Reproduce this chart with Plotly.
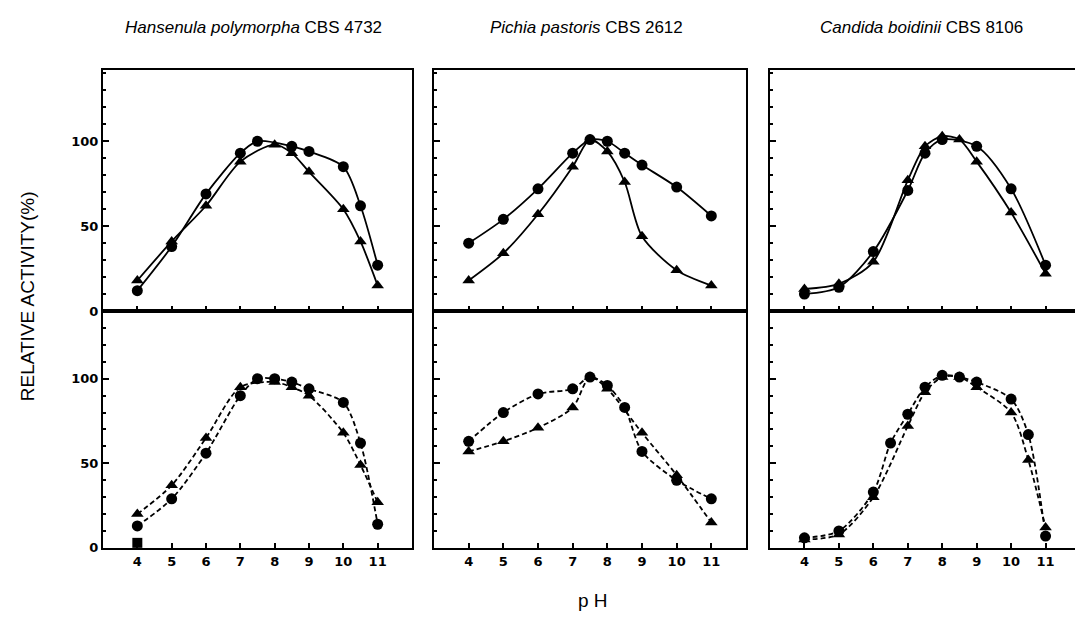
import plotly.graph_objects as go

# ---------------- data ----------------
titles = ["<i>Hansenula polymorpha</i> CBS 4732",
          "<i>Pichia pastoris</i> CBS 2612",
          "<i>Candida boidinii</i> CBS 8106"]
x_ticks = [4, 5, 6, 7, 8, 9, 10, 11]
y_ticks = [0, 50, 100]

# Hansenula polymorpha, top row (solid)
hp_top_circ_ph = [4, 5, 6, 7, 7.5, 8.5, 9, 10, 10.5, 11]
hp_top_circ = [12, 38, 69, 93, 100, 97, 94, 85, 62, 27]
hp_top_tri_ph = [4, 5, 6, 7, 8, 8.5, 9, 10, 10.5, 11]
hp_top_tri = [18, 41, 62, 88, 98, 93, 82, 60, 41, 15]
# Hansenula polymorpha, bottom row (dashed)
hp_bot_circ_ph = [4, 5, 6, 7, 7.5, 8, 8.5, 9, 10, 10.5, 11]
hp_bot_circ = [13, 29, 56, 90, 100, 100, 98, 94, 86, 62, 14]
hp_bot_tri_ph = [4, 5, 6, 7, 8, 8.5, 9, 10, 10.5, 11]
hp_bot_tri = [20, 37, 65, 95, 98, 95, 90, 68, 49, 27]
hp_bot_sq_ph = [4]
hp_bot_sq = [3]

# Pichia pastoris
pp_top_circ_ph = [4, 5, 6, 7, 7.5, 8, 8.5, 9, 10, 11]
pp_top_circ = [40, 54, 72, 93, 101, 100, 93, 86, 73, 56]
pp_top_tri_ph = [4, 5, 6, 7, 7.5, 8, 8.5, 9, 10, 11]
pp_top_tri = [18, 34, 57, 85, 101, 94, 76, 44, 24, 15]
pp_bot_circ_ph = [4, 5, 6, 7, 7.5, 8, 8.5, 9, 10, 11]
pp_bot_circ = [63, 80, 91, 94, 101, 96, 83, 57, 40, 29]
pp_bot_tri_ph = [4, 5, 6, 7, 7.5, 8, 9, 10, 11]
pp_bot_tri = [57, 63, 71, 83, 101, 94, 68, 43, 15]

# Candida boidinii
cb_top_circ_ph = [4, 5, 6, 7, 7.5, 8, 9, 10, 11]
cb_top_circ = [10, 14, 35, 71, 93, 101, 97, 72, 27]
cb_top_tri_ph = [4, 5, 6, 7, 7.5, 8, 8.5, 9, 10, 11]
cb_top_tri = [13, 16, 29, 77, 97, 103, 101, 88, 58, 22]
cb_bot_circ_ph = [4, 5, 6, 6.5, 7, 7.5, 8, 8.5, 9, 10, 10.5, 11]
cb_bot_circ = [6, 10, 33, 62, 79, 95, 102, 101, 98, 88, 67, 7]
cb_bot_tri_ph = [4, 5, 6, 7, 7.5, 8, 8.5, 9, 10, 10.5, 11]
cb_bot_tri = [5, 8, 30, 72, 92, 101, 101, 95, 80, 52, 12]

# ---------------- layout geometry ----------------
W, H = 1083, 619
col_px = [(95, 404), (426, 738), (762, 1072)]
row_px = [(63, 307), (307, 547)]  # top row, bottom row (pixels from top)

def xdom(c):
    a, b = col_px[c]
    return [a / W, b / W]

def ydom(r):
    a, b = row_px[r]
    return [1 - b / H, 1 - a / H]

fig = go.Figure()

panels = [
    (0, 0, [(hp_top_circ_ph, hp_top_circ, "circle"), (hp_top_tri_ph, hp_top_tri, "triangle-up")], False),
    (0, 1, [(pp_top_circ_ph, pp_top_circ, "circle"), (pp_top_tri_ph, pp_top_tri, "triangle-up")], False),
    (0, 2, [(cb_top_circ_ph, cb_top_circ, "circle"), (cb_top_tri_ph, cb_top_tri, "triangle-up")], False),
    (1, 0, [(hp_bot_circ_ph, hp_bot_circ, "circle"), (hp_bot_tri_ph, hp_bot_tri, "triangle-up")], True),
    (1, 1, [(pp_bot_circ_ph, pp_bot_circ, "circle"), (pp_bot_tri_ph, pp_bot_tri, "triangle-up")], True),
    (1, 2, [(cb_bot_circ_ph, cb_bot_circ, "circle"), (cb_bot_tri_ph, cb_bot_tri, "triangle-up")], True),
]

tick_font = dict(family="DejaVu Sans", size=13, color="black", weight=700)

for idx, (r, c, series, dashed) in enumerate(panels):
    n = idx + 1
    xa = "x" if n == 1 else f"x{n}"
    ya = "y" if n == 1 else f"y{n}"
    top = r == 0
    yr = [0, (307 - 63) / 1.72] if top else [0, 140]
    for ph, vals, sym in series:
        fig.add_trace(go.Scatter(
            x=ph, y=vals, xaxis=xa, yaxis=ya, mode="lines+markers",
            line=dict(color="black", width=1.8, shape="spline", smoothing=0.8,
                      dash="5px,3px" if dashed else "solid"),
            marker=dict(symbol=sym, size=11, color="black"),
            showlegend=False, hoverinfo="skip"))
    if (r, c) == (1, 0):
        fig.add_trace(go.Scatter(
            x=hp_bot_sq_ph, y=hp_bot_sq, xaxis=xa, yaxis=ya, mode="markers",
            marker=dict(symbol="square", size=10, color="black"),
            showlegend=False, hoverinfo="skip"))

    axis_common = dict(showline=True, linecolor="black", linewidth=2.2, mirror=True,
                       showgrid=False, zeroline=False, ticks="inside",
                       tickcolor="black", tickfont=tick_font)
    xkey = "xaxis" if n == 1 else f"xaxis{n}"
    ykey = "yaxis" if n == 1 else f"yaxis{n}"
    fig.update_layout(**{
        xkey: dict(axis_common, domain=xdom(c), anchor=ya, range=[3, 12],
                   tickvals=x_ticks, ticklen=5, tickwidth=1.5,
                   showticklabels=(r == 1)),
        ykey: dict(axis_common, domain=ydom(r), anchor=xa, range=yr,
                   tickvals=y_ticks, ticklen=6, tickwidth=2,
                   minor=dict(dtick=10, ticks="inside", ticklen=3, tickcolor="black", tickwidth=1.5),
                   showticklabels=(c == 0)),
    })

annotations = []
for c in range(3):
    a, b = col_px[c]
    annotations.append(dict(
        text=titles[c], x=(a + b) / 2 / W - 4 / W, y=1 - 20 / H, xref="paper", yref="paper",
        showarrow=False, xanchor="center", yanchor="middle",
        font=dict(family="Liberation Sans, Arial", size=17, color="black")))
annotations.append(dict(
    text="RELATIVE ACTIVITY(%)", x=19 / W, y=1 - 292 / H, xref="paper", yref="paper",
    showarrow=False, textangle=-90, xanchor="center", yanchor="middle",
    font=dict(family="Liberation Sans, Arial", size=19, color="black")))
annotations.append(dict(
    text="p H", x=585 / W, y=1 - 600 / H, xref="paper", yref="paper",
    showarrow=False, xanchor="center", yanchor="middle",
    font=dict(family="Liberation Sans, Arial", size=19, color="black")))

fig.update_layout(width=W, height=H, margin=dict(l=0, r=0, t=0, b=0),
                  paper_bgcolor="white", plot_bgcolor="white",
                  annotations=annotations, showlegend=False)

fig.write_html("out.html")
